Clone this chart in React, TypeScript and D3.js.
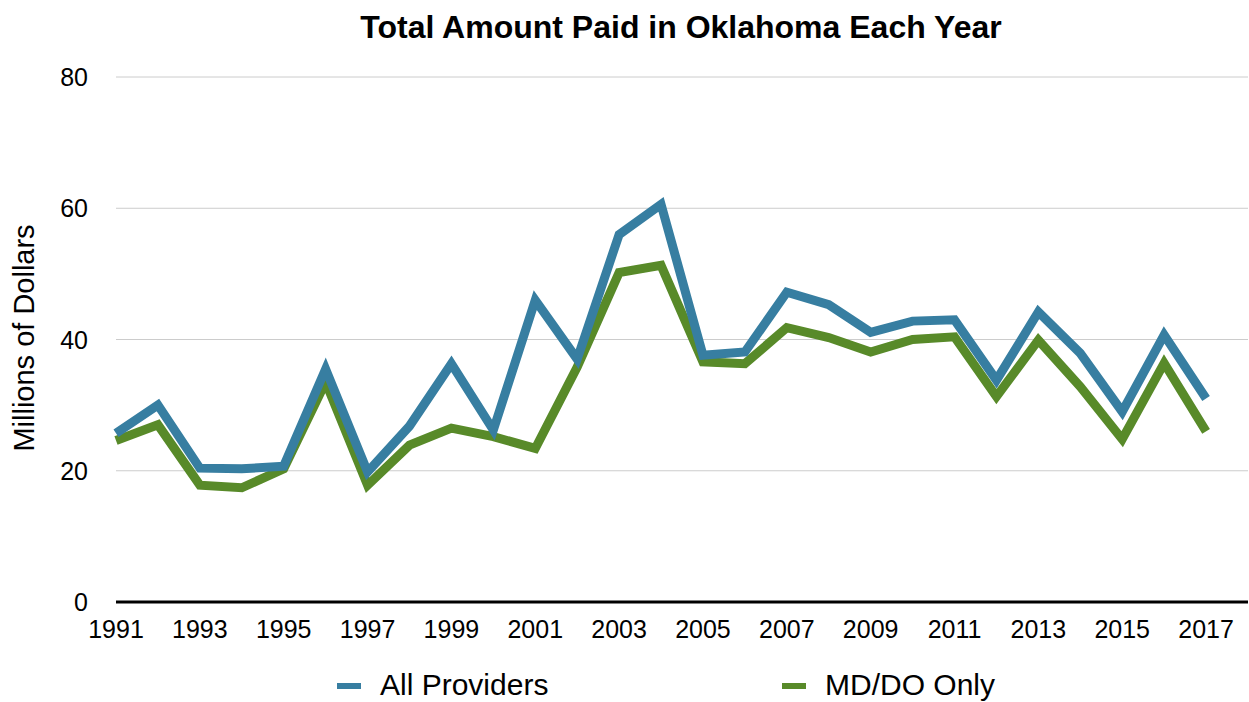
import React from 'react';
import * as d3 from 'd3';

// Years on the x axis
const years = [
  1991, 1992, 1993, 1994, 1995, 1996, 1997, 1998, 1999, 2000,
  2001, 2002, 2003, 2004, 2005, 2006, 2007, 2008, 2009, 2010,
  2011, 2012, 2013, 2014, 2015, 2016, 2017,
];

// Millions of dollars
const allProviders = [
  25.7, 30.0, 20.4, 20.3, 20.7, 35.5, 19.8, 26.8, 36.3, 26.2,
  46.0, 37.0, 56.0, 60.6, 37.6, 38.1, 47.2, 45.3, 41.1, 42.8,
  43.0, 33.8, 44.2, 37.9, 29.0, 40.7, 31.0,
];
const mdDoOnly = [
  24.6, 27.0, 17.8, 17.4, 20.3, 33.5, 17.8, 23.9, 26.5, 25.2,
  23.4, 35.8, 50.2, 51.3, 36.6, 36.3, 41.8, 40.3, 38.1, 40.0,
  40.4, 31.3, 39.9, 32.8, 24.8, 36.4, 26.0,
];

const xTickYears = [1991, 1993, 1995, 1997, 1999, 2001, 2003, 2005, 2007, 2009, 2011, 2013, 2015, 2017];
const yTicks = [0, 20, 40, 60, 80];

const seriesNames = ['All Providers', 'MD/DO Only'];
const seriesColors = ['#377ea1', '#588a29'];

const W = 1249;
const H = 702;
const FONT = '"Liberation Sans", Arial, Helvetica, sans-serif';

const App = () => {
  const margin = { top: 77, right: 1, bottom: 100, left: 116 };

  const x = d3.scaleLinear()
    .domain([1991, 2018])
    .range([margin.left, W - margin.right]);
  const y = d3.scaleLinear()
    .domain([0, 80])
    .range([H - margin.bottom, margin.top]);

  const line = d3.line<number>()
    .x((_, i) => x(years[i]))
    .y(d => y(d));

  const series = [mdDoOnly, allProviders]; // green underneath, blue on top
  const seriesIdx = [1, 0];

  return (
    <div style={{ position: 'absolute', left: 0, top: 0 }}>
      <svg width={W} height={H} style={{ display: 'block', background: '#fff' }}>
        <text x={681} y={38} textAnchor="middle" fontFamily={FONT} fontWeight="bold" fontSize={32} fill="#000">
          Total Amount Paid in Oklahoma Each Year
        </text>

        {/* grid lines */}
        {yTicks.filter(t => t > 0).map(t => (
          <line key={t} x1={x(1991)} x2={x(2018)} y1={y(t)} y2={y(t)} stroke="#cccccc" strokeWidth={1} />
        ))}

        {/* y tick labels */}
        {yTicks.map(t => (
          <text key={t} x={88} y={y(t)} dy="0.36em" textAnchor="end" fontFamily={FONT} fontSize={25} fill="#000">
            {t}
          </text>
        ))}

        <text
          transform={`translate(34,${338}) rotate(-90)`}
          textAnchor="middle"
          fontFamily={FONT}
          fontSize={29}
          fill="#000"
        >
          Millions of Dollars
        </text>

        {/* x tick labels */}
        {xTickYears.map(yr => (
          <text key={yr} x={x(yr)} y={638} textAnchor="middle" fontFamily={FONT} fontSize={25} fill="#000">
            {yr}
          </text>
        ))}

        {/* lines */}
        {series.map((s, k) => (
          <path
            key={k}
            d={line(s) || ''}
            fill="none"
            stroke={seriesColors[seriesIdx[k]]}
            strokeWidth={9}
            strokeLinejoin="miter"
            strokeMiterlimit={10}
          />
        ))}

        {/* x axis */}
        <line x1={x(1991)} x2={x(2018)} y1={y(0)} y2={y(0)} stroke="#000" strokeWidth={3} />

        {/* legend */}
        {seriesNames.map((name, i) => {
          const lx = i === 0 ? 337 : 782;
          return (
            <g key={name}>
              <line x1={lx} x2={lx + 24} y1={686} y2={686} stroke={seriesColors[i]} strokeWidth={6} />
              <text x={lx + 43} y={695} fontFamily={FONT} fontSize={30} fill="#000">
                {name}
              </text>
            </g>
          );
        })}
      </svg>
    </div>
  );
};

export default App;
